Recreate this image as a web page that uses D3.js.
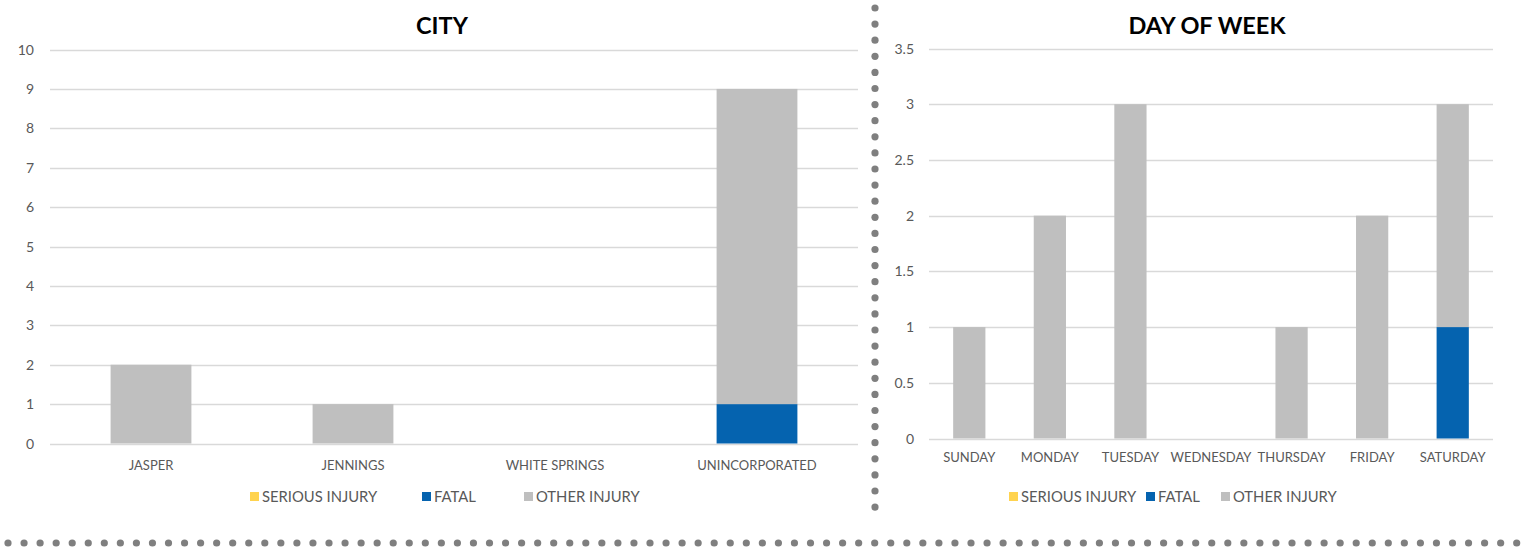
<!DOCTYPE html>
<html><head><meta charset="utf-8">
<script src="https://cdn.jsdelivr.net/npm/d3@7"></script>
<style>
html,body{margin:0;padding:0;background:#fff;}
svg{display:block;font-family:Lato,"Open Sans",sans-serif;}
</style></head><body>
<svg id="c" width="1531" height="548"></svg>
<script>
const seriesNames = ["SERIOUS INJURY","FATAL","OTHER INJURY"];
const seriesColors = ["#FFD34F","#0563AF","#BFBFBF"];

const cityCategories = ["JASPER","JENNINGS","WHITE SPRINGS","UNINCORPORATED"];
const citySerious = [0,0,0,0];
const cityFatal = [0,0,0,1];
const cityOther = [2,1,0,8];
const cityTicks = [0,1,2,3,4,5,6,7,8,9,10];

const dayCategories = ["SUNDAY","MONDAY","TUESDAY","WEDNESDAY","THURSDAY","FRIDAY","SATURDAY"];
const daySerious = [0,0,0,0,0,0,0];
const dayFatal = [0,0,0,0,0,0,1];
const dayOther = [1,2,3,0,1,2,2];
const dayTicks = [0,0.5,1,1.5,2,2.5,3,3.5];

const svg = d3.select("#c");

function drawChart(opt){
  const g = svg.append("g");
  const x = d3.scaleBand().domain(opt.cats).range([opt.x0,opt.x1]).paddingInner(0.6).paddingOuter(0.3);
  const y = d3.scaleLinear().domain([0,opt.max]).range([opt.y0,opt.y1]);
  g.append("g").selectAll("line").data(opt.ticks).join("line")
    .attr("x1",opt.x0).attr("x2",opt.x1)
    .attr("y1",d=>Math.round(y(d))+0.5).attr("y2",d=>Math.round(y(d))+0.5)
    .attr("stroke","#D9D9D9").attr("stroke-width",1.5);
  g.append("g").selectAll("text").data(opt.ticks).join("text")
    .attr("x",opt.labelX).attr("y",d=>y(d)+5).attr("text-anchor","end")
    .attr("font-size",14).attr("fill","#595959").text(d=>d);
  const rows = opt.cats.map((c,i)=>({cat:c,s0:opt.serious[i],s1:opt.fatal[i],s2:opt.other[i]}));
  const stack = d3.stack().keys(["s0","s1","s2"])(rows);
  g.append("g").selectAll("g").data(stack).join("g")
    .attr("fill",(d,i)=>seriesColors[i])
    .selectAll("rect").data(d=>d.filter(v=>v[1]-v[0]>0)).join("rect")
    .attr("x",d=>x(d.data.cat)).attr("width",x.bandwidth())
    .attr("y",d=>y(d[1])).attr("height",d=>y(d[0])-y(d[1]));
  g.append("g").selectAll("text").data(opt.cats).join("text")
    .attr("x",d=>x(d)+x.bandwidth()/2).attr("y",opt.catY).attr("text-anchor","middle")
    .attr("font-size",13).attr("fill","#595959").text(d=>d);
  g.append("text").attr("x",opt.titleX).attr("y",34).attr("text-anchor","middle")
    .attr("font-size",23.5).attr("font-weight","bold").attr("fill","#000").text(opt.title);
  const lg = g.append("g").selectAll("g").data(seriesNames).join("g")
    .attr("transform",(d,i)=>`translate(${opt.legendX[i]},492)`);
  lg.append("rect").attr("width",9).attr("height",9).attr("fill",(d,i)=>seriesColors[i]);
  lg.append("text").attr("x",12).attr("y",10).attr("font-size",14.8).attr("fill","#595959").text(d=>d);
}

drawChart({cats:cityCategories,serious:citySerious,fatal:cityFatal,other:cityOther,ticks:cityTicks,max:10,
  x0:50,x1:858,y0:443.5,y1:49.5,labelX:34,catY:470,title:"CITY",titleX:442,legendX:[250,422,524]});
drawChart({cats:dayCategories,serious:daySerious,fatal:dayFatal,other:dayOther,ticks:dayTicks,max:3.5,
  x0:929,x1:1493,y0:438.5,y1:48.5,labelX:914,catY:462,title:"DAY OF WEEK",titleX:1207,legendX:[1009,1146,1221]});

const vDots = d3.range(8,522,16.1);
svg.append("g").selectAll("circle").data(vDots).join("circle")
  .attr("cx",875).attr("cy",d=>d).attr("r",3.6).attr("fill","#7F7F7F");
const hDots = d3.range(8,1531,16.05);
svg.append("g").selectAll("circle").data(hDots).join("circle")
  .attr("cx",d=>d).attr("cy",543).attr("r",3.6).attr("fill","#7F7F7F");
</script></body></html>
